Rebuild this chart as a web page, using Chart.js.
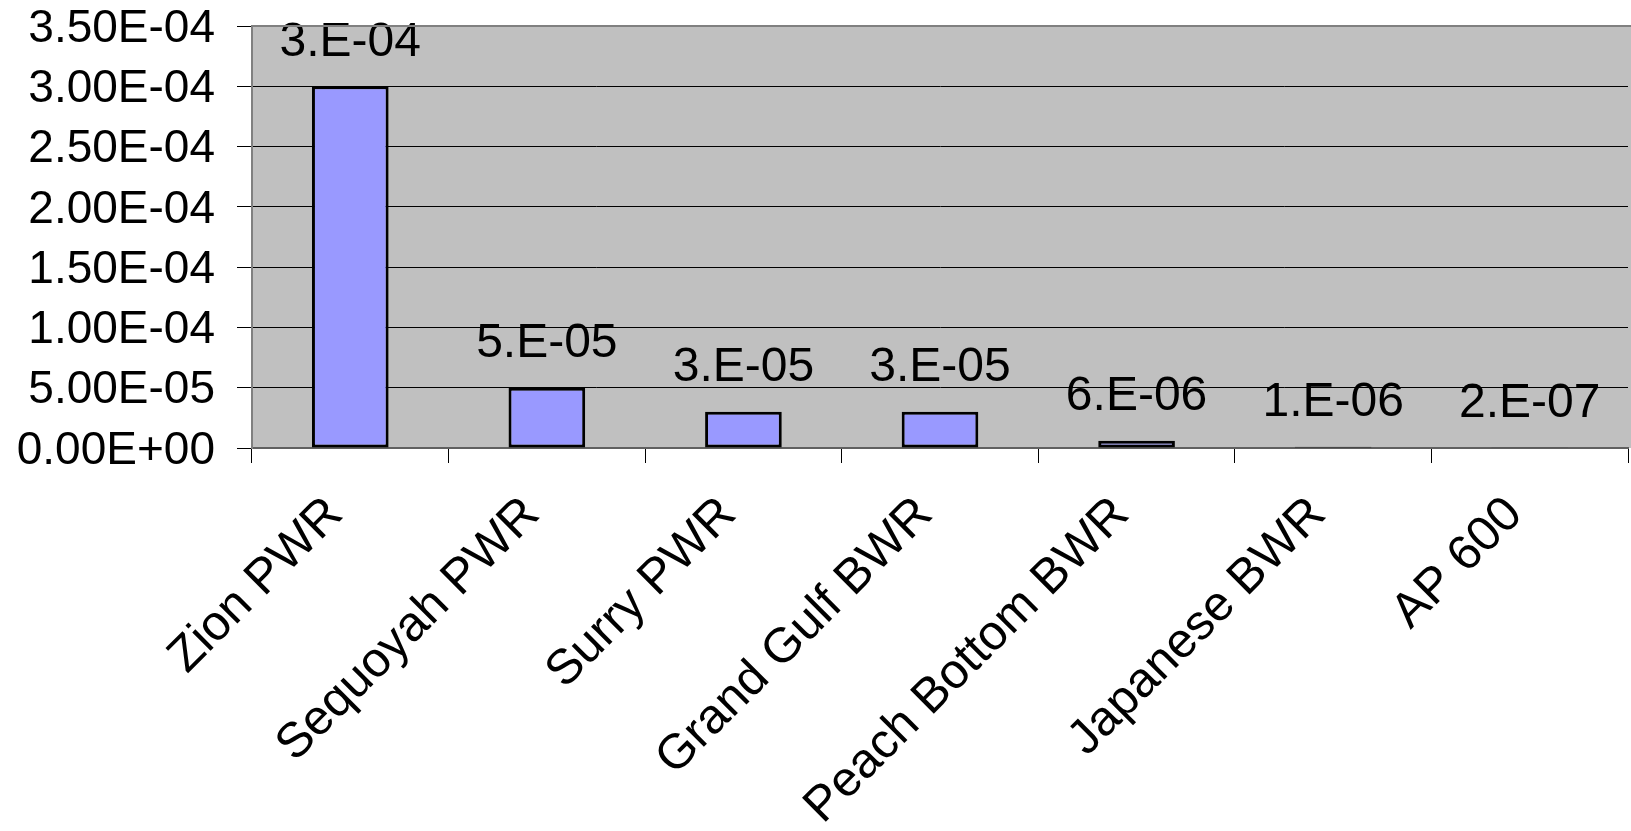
<!DOCTYPE html>
<html>
<head>
<meta charset="utf-8">
<script src="https://cdn.jsdelivr.net/npm/chart.js@4/dist/chart.umd.min.js"></script>
<style>
  html, body { margin: 0; padding: 0; background: #ffffff; }
  #wrap { width: 1631px; height: 831px; }
</style>
</head>
<body>
<div id="wrap"><canvas id="c" width="1631" height="831"></canvas></div>
<script>
// Plant designs and their estimated frequencies
const categories = ['Zion PWR', 'Sequoyah PWR', 'Surry PWR', 'Grand Gulf BWR', 'Peach Bottom BWR', 'Japanese BWR', 'AP 600'];
const frequencies = [3e-4, 5e-5, 3e-5, 3e-5, 6e-6, 1e-6, 2e-7];
const yTickValues = [0, 5e-5, 1e-4, 1.5e-4, 2e-4, 2.5e-4, 3e-4, 3.5e-4];

const FONT = '"Liberation Sans", Arial, sans-serif';

// "3.50E-04" style: fixed mantissa digits, signed two-digit exponent
function sciFormat(v, digits) {
  if (v === 0) return (0).toFixed(digits) + 'E+00';
  const s = v.toExponential(digits);
  const [mant, exp] = s.split('e');
  const e = parseInt(exp, 10);
  const sign = e < 0 ? '-' : '+';
  const ee = String(Math.abs(e)).padStart(2, '0');
  let m = mant;
  if (digits === 0) m = mant + '.';
  return m + 'E' + sign + ee;
}

// Grey plot background with darker top frame
const plotFrame = {
  id: 'plotFrame',
  beforeDraw(chart) {
    const { ctx, chartArea: a } = chart;
    ctx.save();
    ctx.fillStyle = '#C0C0C0';
    ctx.fillRect(a.left, a.top, a.right - a.left + 5, a.bottom - a.top);
    ctx.restore();
  },
  afterDraw(chart) {
    const { ctx, chartArea: a } = chart;
    ctx.save();
    ctx.strokeStyle = '#808080';
    ctx.lineWidth = 2;
    ctx.beginPath();
    ctx.moveTo(a.left, a.top);
    ctx.lineTo(a.right + 5, a.top);
    ctx.stroke();
    ctx.restore();
  }
};

// Value labels above each bar
const valueLabels = {
  id: 'valueLabels',
  afterDatasetsDraw(chart) {
    const { ctx } = chart;
    const meta = chart.getDatasetMeta(0);
    ctx.save();
    ctx.font = '48px ' + FONT;
    ctx.fillStyle = '#000000';
    ctx.textAlign = 'center';
    ctx.textBaseline = 'middle';
    meta.data.forEach((bar, i) => {
      ctx.fillText(sciFormat(frequencies[i], 0), bar.x, bar.y - 44);
    });
    ctx.restore();
  }
};

new Chart(document.getElementById('c'), {
  type: 'bar',
  data: {
    labels: categories,
    datasets: [{
      data: frequencies,
      backgroundColor: '#9999FF',
      borderColor: '#000000',
      borderWidth: 3,
      borderSkipped: false,
      categoryPercentage: 1.0,
      barPercentage: 0.39
    }]
  },
  options: {
    responsive: false,
    animation: false,
    layout: { padding: { top: 26, right: 3, left: 0, bottom: 0 } },
    plugins: {
      legend: { display: false },
      tooltip: { enabled: false }
    },
    scales: {
      x: {
        offset: true,
        grid: {
          offset: true,
          drawOnChartArea: false,
          drawTicks: true,
          tickLength: 15,
          color: '#000000',
          lineWidth: 1
        },
        border: { display: true, color: '#606060', width: 2 },
        ticks: {
          autoSkip: false,
          maxRotation: 45,
          minRotation: 45,
          padding: 23,
          labelOffset: -15,
          color: '#000000',
          font: { family: FONT, size: 49 }
        },
        afterFit(scale) {
          scale.height = 383;
          scale.paddingLeft = 0;
          scale.paddingRight = 0;
        }
      },
      y: {
        min: 0,
        max: 3.5e-4,
        afterBuildTicks(scale) {
          scale.ticks = yTickValues.map(v => ({ value: v }));
        },
        grid: {
          drawOnChartArea: true,
          drawTicks: true,
          tickLength: 15,
          color: '#000000',
          lineWidth: 1
        },
        border: { display: true, color: '#808080', width: 2 },
        ticks: {
          autoSkip: false,
          padding: 22,
          labelOffset: 3,
          color: '#000000',
          font: { family: FONT, size: 46 },
          callback: (v) => sciFormat(v, 2)
        },
        afterFit(scale) {
          scale.width = 252;
          scale.paddingTop = 0;
          scale.paddingBottom = 0;
        }
      }
    }
  },
  plugins: [plotFrame, valueLabels]
});
</script>
</body>
</html>
